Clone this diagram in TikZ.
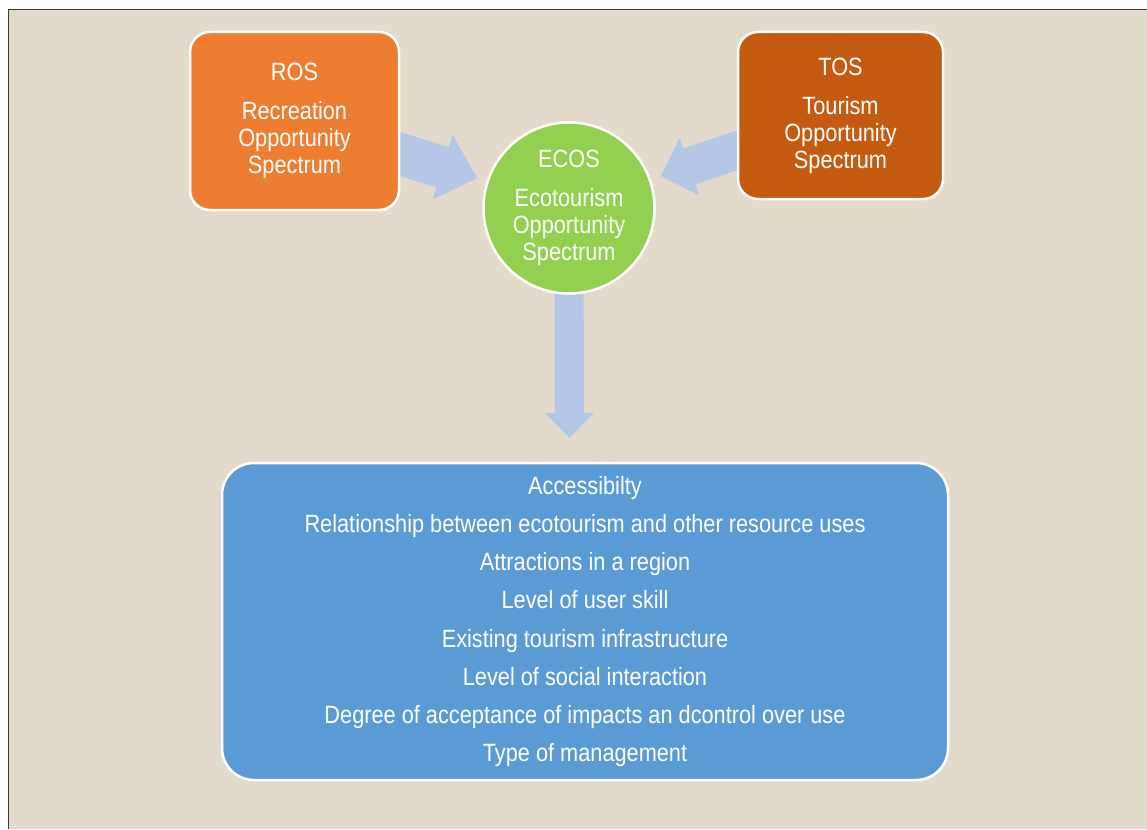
\documentclass[tikz,border=0pt]{standalone}
\usepackage{fontspec}
\setmainfont[FakeStretch=0.87]{Liberation Sans}
\usetikzlibrary{arrows.meta}
\definecolor{bgbeige}{HTML}{E3DACB}
\definecolor{rosorange}{HTML}{ED7D31}
\definecolor{tosorange}{HTML}{C55A11}
\definecolor{ecosgreen}{HTML}{92D050}
\definecolor{listblue}{HTML}{5B9BD5}
\definecolor{arrowblue}{HTML}{B4C7E7}
\definecolor{frameline}{HTML}{3A3A3A}
\pgfdeclarelayer{back}
\pgfdeclarelayer{mid}
\pgfsetlayers{back,mid,main}
\tikzset{
  x=1pt, y=-1pt,
  box/.style={draw=white, line width=2.5pt, text=white, align=center,
    inner sep=0pt, font=\fontsize{25}{27}\selectfont},
  sqbox/.style={box, rounded corners=20pt},
  circbox/.style={box, circle},
  listbox/.style={box, rounded corners=32pt, font=\fontsize{25}{38.2}\selectfont},
  blockarrow/.style={draw=arrowblue, line width=#1},
}
\begin{document}
\begin{tikzpicture}
\useasboundingbox (0,0) rectangle (1147,829);
\begin{pgfonlayer}{back}
  \fill[white] (0,0) rectangle (1147,829);
  \fill[bgbeige] (9,10) rectangle (1147,829);
  \draw[frameline, line width=1.5pt] (8.5,829) -- (8.5,9.5) -- (1147,9.5);
\end{pgfonlayer}

\node[sqbox, fill=rosorange, minimum width=209pt, minimum height=178pt] (ros) at (294.5,121)
  {ROS\\[12pt]Recreation\\Opportunity\\Spectrum};
\node[sqbox, fill=tosorange, minimum width=205pt, minimum height=167pt] (tos) at (840.5,115.5)
  {TOS\\[12pt]Tourism\\Opportunity\\Spectrum};
\node[circbox, fill=ecosgreen, minimum size=171pt] (ecos) at (569,208)
  {ECOS\\[12pt]Ecotourism\\Opportunity\\Spectrum};
\node[listbox, fill=listblue, minimum width=726pt, minimum height=317pt] (factors) at (585,621.5)
  {Accessibilty\\
   Relationship between ecotourism and other resource uses\\
   Attractions in a region\\
   Level of user skill\\
   Existing tourism infrastructure\\
   Level of social interaction\\
   Degree of acceptance of impacts an dcontrol over use\\
   Type of management};

\coordinate (rostip) at (477,178);
\coordinate (tostip) at (661,176);
\coordinate (ecostip) at (569.5,438);

\begin{pgfonlayer}{mid}
  \draw[blockarrow=42pt, -{Triangle[length=36pt, width=68pt, line width=0pt]}] (ros.center) -- (rostip);
  \draw[blockarrow=38pt, -{Triangle[length=30pt, width=61pt, line width=0pt]}] (tos.center) -- (tostip);
  \draw[blockarrow=29pt, -{Triangle[length=25pt, width=49pt, line width=0pt]}] (ecos.center) -- (ecostip);
\end{pgfonlayer}
\end{tikzpicture}
\end{document}
